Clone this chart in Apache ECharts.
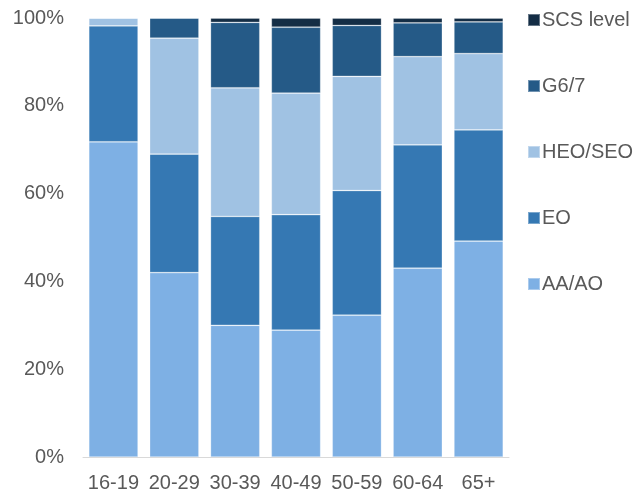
<!DOCTYPE html>
<html>
<head>
<meta charset="utf-8">
<script src="https://cdn.jsdelivr.net/npm/echarts@6/dist/echarts.min.js"></script>
<style>
  html, body { margin: 0; padding: 0; background: #fff; }
  #chart { width: 640px; height: 493px; }
</style>
</head>
<body>
<div id="chart"></div>
<script>
// Age bands along the x axis
const categories = ['16-19', '20-29', '30-39', '40-49', '50-59', '60-64', '65+'];

// Share of staff in each grade, per age band (percent)
const aaAo   = [71.8, 42.0, 30.0, 28.9, 32.3, 43.0, 49.2];
const eo     = [26.4, 27.0, 24.8, 26.3, 28.4, 28.1, 25.3];
const heoSeo = [ 1.8, 26.4, 29.3, 27.7, 26.0, 20.1, 17.4];
const g67    = [ 0.0,  4.6, 14.9, 15.0, 11.6,  7.7,  7.2];
const scs    = [ 0.0,  0.0,  1.0,  2.1,  1.7,  1.1,  0.9];

const yTicks = [0, 20, 40, 60, 80, 100];

const seriesDefs = [
  { name: 'AA/AO',     data: aaAo,   color: '#7EB0E4' },
  { name: 'EO',        data: eo,     color: '#3578B3' },
  { name: 'HEO/SEO',   data: heoSeo, color: '#A0C2E3' },
  { name: 'G6/7',      data: g67,    color: '#255A87' },
  { name: 'SCS level', data: scs,    color: '#142D45' }
];

const textColor = '#595959';
const fontFamily = '"Liberation Sans", Arial, sans-serif';

const chart = echarts.init(document.getElementById('chart'), null, { renderer: 'canvas' });

chart.setOption({
  animation: false,
  textStyle: { fontFamily: fontFamily },
  grid: { left: 83, right: 131, top: 18, bottom: 35, containLabel: false },
  legend: {
    orient: 'vertical',
    left: 522,
    top: 3,
    itemWidth: 12,
    itemHeight: 12,
    itemGap: 42,
    icon: 'rect',
    data: seriesDefs.map(s => s.name).reverse(),
    textStyle: { color: textColor, fontSize: 20, lineHeight: 24, fontFamily: fontFamily, padding: [0, 0, 0, -3] }
  },
  xAxis: {
    type: 'category',
    data: categories,
    axisLine: { show: true, lineStyle: { color: '#D9D9D9', width: 1 } },
    axisTick: { show: false },
    axisLabel: { color: textColor, fontSize: 20, margin: 16, fontFamily: fontFamily, interval: 0 }
  },
  yAxis: {
    type: 'value',
    min: yTicks[0],
    max: yTicks[yTicks.length - 1],
    interval: yTicks[1] - yTicks[0],
    splitLine: { show: false },
    axisLine: { show: false },
    axisTick: { show: false },
    axisLabel: { color: textColor, fontSize: 20, margin: 19, fontFamily: fontFamily, formatter: '{value}%' }
  },
  series: seriesDefs.map(s => ({
    name: s.name,
    type: 'bar',
    stack: 'total',
    data: s.data,
    barCategoryGap: '19%',
    itemStyle: { color: s.color, borderColor: 'rgba(255,255,255,0.35)', borderWidth: 0.75 }
  }))
});
</script>
</body>
</html>
